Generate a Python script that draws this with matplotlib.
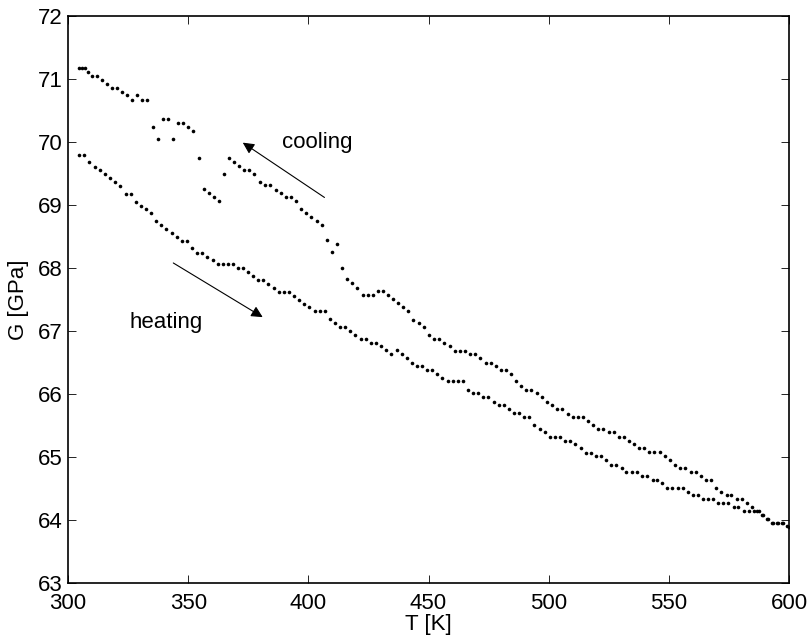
import matplotlib
matplotlib.use("Agg")
import matplotlib.pyplot as plt

# ── Data ──────────────────────────────────────────────────────────────────────
T_cool = [304.4, 305.8, 307.2, 308.5, 310.1, 311.9, 314.0, 316.1, 318.2, 320.5,
          322.5, 324.7, 326.8, 328.9, 330.9, 333.0, 335.2, 337.3, 339.4, 341.5,
          343.6, 345.9, 348.0, 350.1, 352.1, 354.4, 356.6, 358.7, 360.8, 363.0,
          365.0, 367.1, 369.2, 371.3, 373.4, 375.5, 377.5, 379.9, 382.0, 384.1,
          386.4, 388.5, 390.6, 392.7, 394.9, 397.0, 399.0, 401.1, 403.5, 405.6,
          407.7, 409.7, 411.8, 414.2, 416.2, 418.3, 420.4, 422.6, 424.7, 426.8,
          428.9, 430.9, 433.0, 435.1, 437.3, 439.5, 441.6, 443.7, 446.2, 448.3,
          450.4, 452.4, 454.5, 456.6, 458.8, 461.0, 463.1, 465.2, 467.4, 469.5,
          471.6, 473.8, 475.9, 478.0, 480.2, 482.3, 484.4, 486.4, 488.5, 490.6,
          492.7, 495.0, 497.3, 499.2, 501.4, 503.6, 505.7, 507.9, 510.0, 512.1,
          514.2, 516.4, 518.6, 520.7, 522.8, 525.0, 527.1, 529.3, 531.4, 533.5,
          535.5, 537.6, 539.7, 541.9, 544.0, 546.2, 548.3, 550.5, 552.6, 554.7,
          556.8, 559.1, 561.2, 563.3, 565.4, 567.5, 569.7, 571.9, 574.0, 576.0,
          578.3, 580.4, 582.4, 584.5, 586.6, 588.7, 590.8, 592.9, 595.0, 597.1,
          599.2]
G_cool = [71.17, 71.17, 71.17, 71.11, 71.05, 71.05, 70.98, 70.92, 70.86, 70.86,
          70.80, 70.74, 70.67, 70.74, 70.67, 70.67, 70.24, 70.05, 70.36, 70.36,
          70.05, 70.30, 70.30, 70.24, 70.17, 69.74, 69.25, 69.19, 69.13, 69.06,
          69.50, 69.75, 69.69, 69.62, 69.56, 69.56, 69.49, 69.37, 69.31, 69.31,
          69.24, 69.19, 69.12, 69.12, 69.06, 68.93, 68.88, 68.81, 68.75, 68.68,
          68.44, 68.25, 68.38, 68.00, 67.82, 67.76, 67.69, 67.57, 67.57, 67.57,
          67.63, 67.63, 67.57, 67.51, 67.44, 67.38, 67.31, 67.18, 67.13, 67.07,
          66.94, 66.88, 66.88, 66.81, 66.76, 66.69, 66.69, 66.69, 66.63, 66.63,
          66.57, 66.50, 66.50, 66.44, 66.38, 66.38, 66.32, 66.20, 66.13, 66.07,
          66.07, 66.01, 65.95, 65.88, 65.82, 65.76, 65.76, 65.69, 65.63, 65.63,
          65.63, 65.57, 65.51, 65.44, 65.44, 65.39, 65.39, 65.32, 65.32, 65.26,
          65.20, 65.14, 65.14, 65.08, 65.08, 65.08, 65.01, 64.95, 64.88, 64.83,
          64.83, 64.76, 64.76, 64.70, 64.64, 64.64, 64.51, 64.45, 64.39, 64.39,
          64.33, 64.33, 64.27, 64.20, 64.14, 64.08, 64.02, 63.96, 63.96, 63.96,
          63.90]

T_heat = [304.4, 306.5, 308.9, 311.1, 313.3, 315.4, 317.6, 319.7, 321.8, 324.0,
          326.1, 328.3, 330.4, 332.5, 334.7, 336.6, 338.8, 340.9, 343.2, 345.2,
          347.3, 349.4, 351.6, 353.7, 355.9, 358.0, 360.2, 362.3, 364.4, 366.5,
          368.5, 370.9, 373.0, 375.0, 377.1, 379.2, 381.3, 383.4, 385.6, 387.8,
          389.9, 392.0, 394.2, 396.3, 398.3, 400.4, 402.7, 404.7, 406.8, 409.0,
          411.1, 413.2, 415.4, 417.5, 419.6, 421.8, 423.9, 426.0, 428.2, 430.3,
          432.3, 434.4, 436.8, 438.9, 440.9, 443.0, 445.1, 447.3, 449.4, 451.6,
          453.7, 455.8, 458.0, 460.1, 462.2, 464.4, 466.5, 468.5, 470.6, 472.8,
          474.9, 477.2, 479.2, 481.3, 483.4, 485.5, 487.7, 489.8, 491.8, 494.0,
          496.3, 498.4, 500.5, 502.7, 504.7, 506.9, 509.0, 511.1, 513.5, 515.6,
          517.6, 519.7, 521.8, 523.9, 526.0, 528.2, 530.3, 532.3, 534.6, 536.7,
          538.9, 541.0, 543.2, 545.2, 547.3, 549.4, 551.5, 553.7, 555.8, 557.9,
          560.0, 562.0, 564.3, 566.3, 568.4, 570.6, 572.7, 574.8, 576.9, 578.9,
          581.3, 583.4, 585.5, 587.4, 589.3, 591.4, 593.5, 595.6, 597.7, 599.8]
G_heat = [69.80, 69.80, 69.68, 69.61, 69.55, 69.49, 69.43, 69.37, 69.30, 69.18,
          69.18, 69.05, 68.99, 68.93, 68.87, 68.75, 68.68, 68.62, 68.56, 68.49,
          68.43, 68.43, 68.31, 68.24, 68.24, 68.18, 68.12, 68.06, 68.06, 68.06,
          68.06, 68.00, 68.00, 67.93, 67.87, 67.81, 67.81, 67.75, 67.68, 67.62,
          67.62, 67.62, 67.56, 67.50, 67.43, 67.38, 67.31, 67.31, 67.31, 67.19,
          67.13, 67.06, 67.06, 67.00, 66.94, 66.87, 66.87, 66.81, 66.81, 66.76,
          66.70, 66.63, 66.70, 66.63, 66.57, 66.50, 66.44, 66.44, 66.38, 66.38,
          66.32, 66.26, 66.20, 66.20, 66.20, 66.20, 66.07, 66.01, 66.01, 65.95,
          65.95, 65.88, 65.82, 65.82, 65.76, 65.70, 65.70, 65.63, 65.63, 65.51,
          65.45, 65.39, 65.32, 65.32, 65.32, 65.26, 65.26, 65.20, 65.14, 65.07,
          65.07, 65.01, 65.01, 64.95, 64.88, 64.88, 64.83, 64.76, 64.76, 64.76,
          64.70, 64.70, 64.64, 64.64, 64.58, 64.51, 64.51, 64.51, 64.51, 64.45,
          64.39, 64.39, 64.33, 64.33, 64.33, 64.27, 64.27, 64.27, 64.20, 64.20,
          64.14, 64.14, 64.14, 64.14, 64.08, 64.02, 63.96, 63.96, 63.96, 63.89]

x_ticks = [300, 350, 400, 450, 500, 550, 600]
y_ticks = [63, 64, 65, 66, 67, 68, 69, 70, 71, 72]

# ── Plot ──────────────────────────────────────────────────────────────────────
plt.rcParams["font.family"] = ["Liberation Sans", "DejaVu Sans"]
plt.rcParams["font.size"] = 16

fig = plt.figure(figsize=(8.10, 6.41), dpi=100)
ax = fig.add_axes([0.084, 0.0905, 0.8901, 0.8845])

ax.plot(T_cool, G_cool, "o", color="k", ms=2.6, mew=0)
ax.plot(T_heat, G_heat, "o", color="k", ms=2.6, mew=0)

ax.text(403.8, 70.0, "cooling", ha="center", va="center", fontsize=16)
ax.text(340.9, 67.13, "heating", ha="center", va="center", fontsize=16)

arrow = dict(arrowstyle="-|>", color="k", lw=0.8, mutation_scale=17,
             shrinkA=0, shrinkB=0)
ax.annotate("", xy=(372.7, 69.99), xytext=(406.7, 69.12), arrowprops=arrow)
ax.annotate("", xy=(381.0, 67.22), xytext=(343.8, 68.08), arrowprops=arrow)

ax.set_xlim(300, 600)
ax.set_ylim(63, 72)
ax.set_xticks(x_ticks)
ax.set_yticks(y_ticks)
ax.set_xlabel("T [K]", labelpad=0)
ax.set_ylabel("G [GPa]", labelpad=6)

ax.tick_params(direction="in", length=6, width=0.6, top=True, right=True,
               labelsize=16)
ax.tick_params(axis="x", pad=7)
ax.tick_params(axis="y", pad=4)
for s in ax.spines.values():
    s.set_linewidth(1.2)

fig.savefig("out.png", dpi=100)
plt.close(fig)
